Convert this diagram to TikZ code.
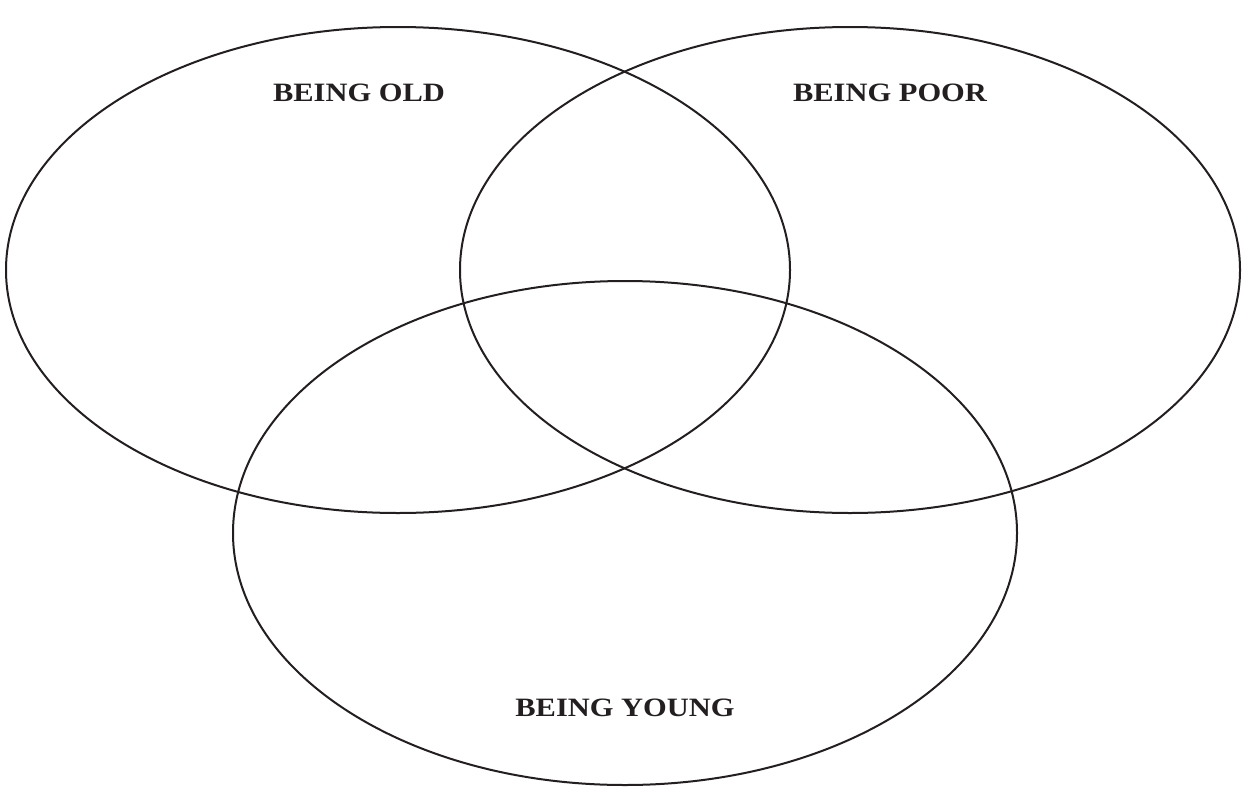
\documentclass[tikz,border=0pt]{standalone}
\usepackage{fontspec}
\setmainfont{Liberation Serif}
\newfontfamily\lblfont[FakeStretch=1.15]{Liberation Serif}
\definecolor{ink}{HTML}{231F20}
\begin{document}
\begin{tikzpicture}[x=1pt,y=-1pt,
  venn/.style={draw=ink,line width=2pt},
  lbl/.style={text=ink,font=\lblfont\fontsize{26.5}{30}\selectfont\bfseries,inner sep=0pt}]
\useasboundingbox (0,0) rectangle (1247,787);
\draw[venn] (398,270) ellipse [x radius=392,y radius=243];
\draw[venn] (850,270) ellipse [x radius=390,y radius=243];
\draw[venn] (625,533) ellipse [x radius=392,y radius=252];
\node[lbl] (old) at (359,93) {BEING OLD};
\node[lbl] (poor) at (890,93) {BEING POOR};
\node[lbl] (young) at (625,708) {BEING YOUNG};
\end{tikzpicture}
\end{document}
